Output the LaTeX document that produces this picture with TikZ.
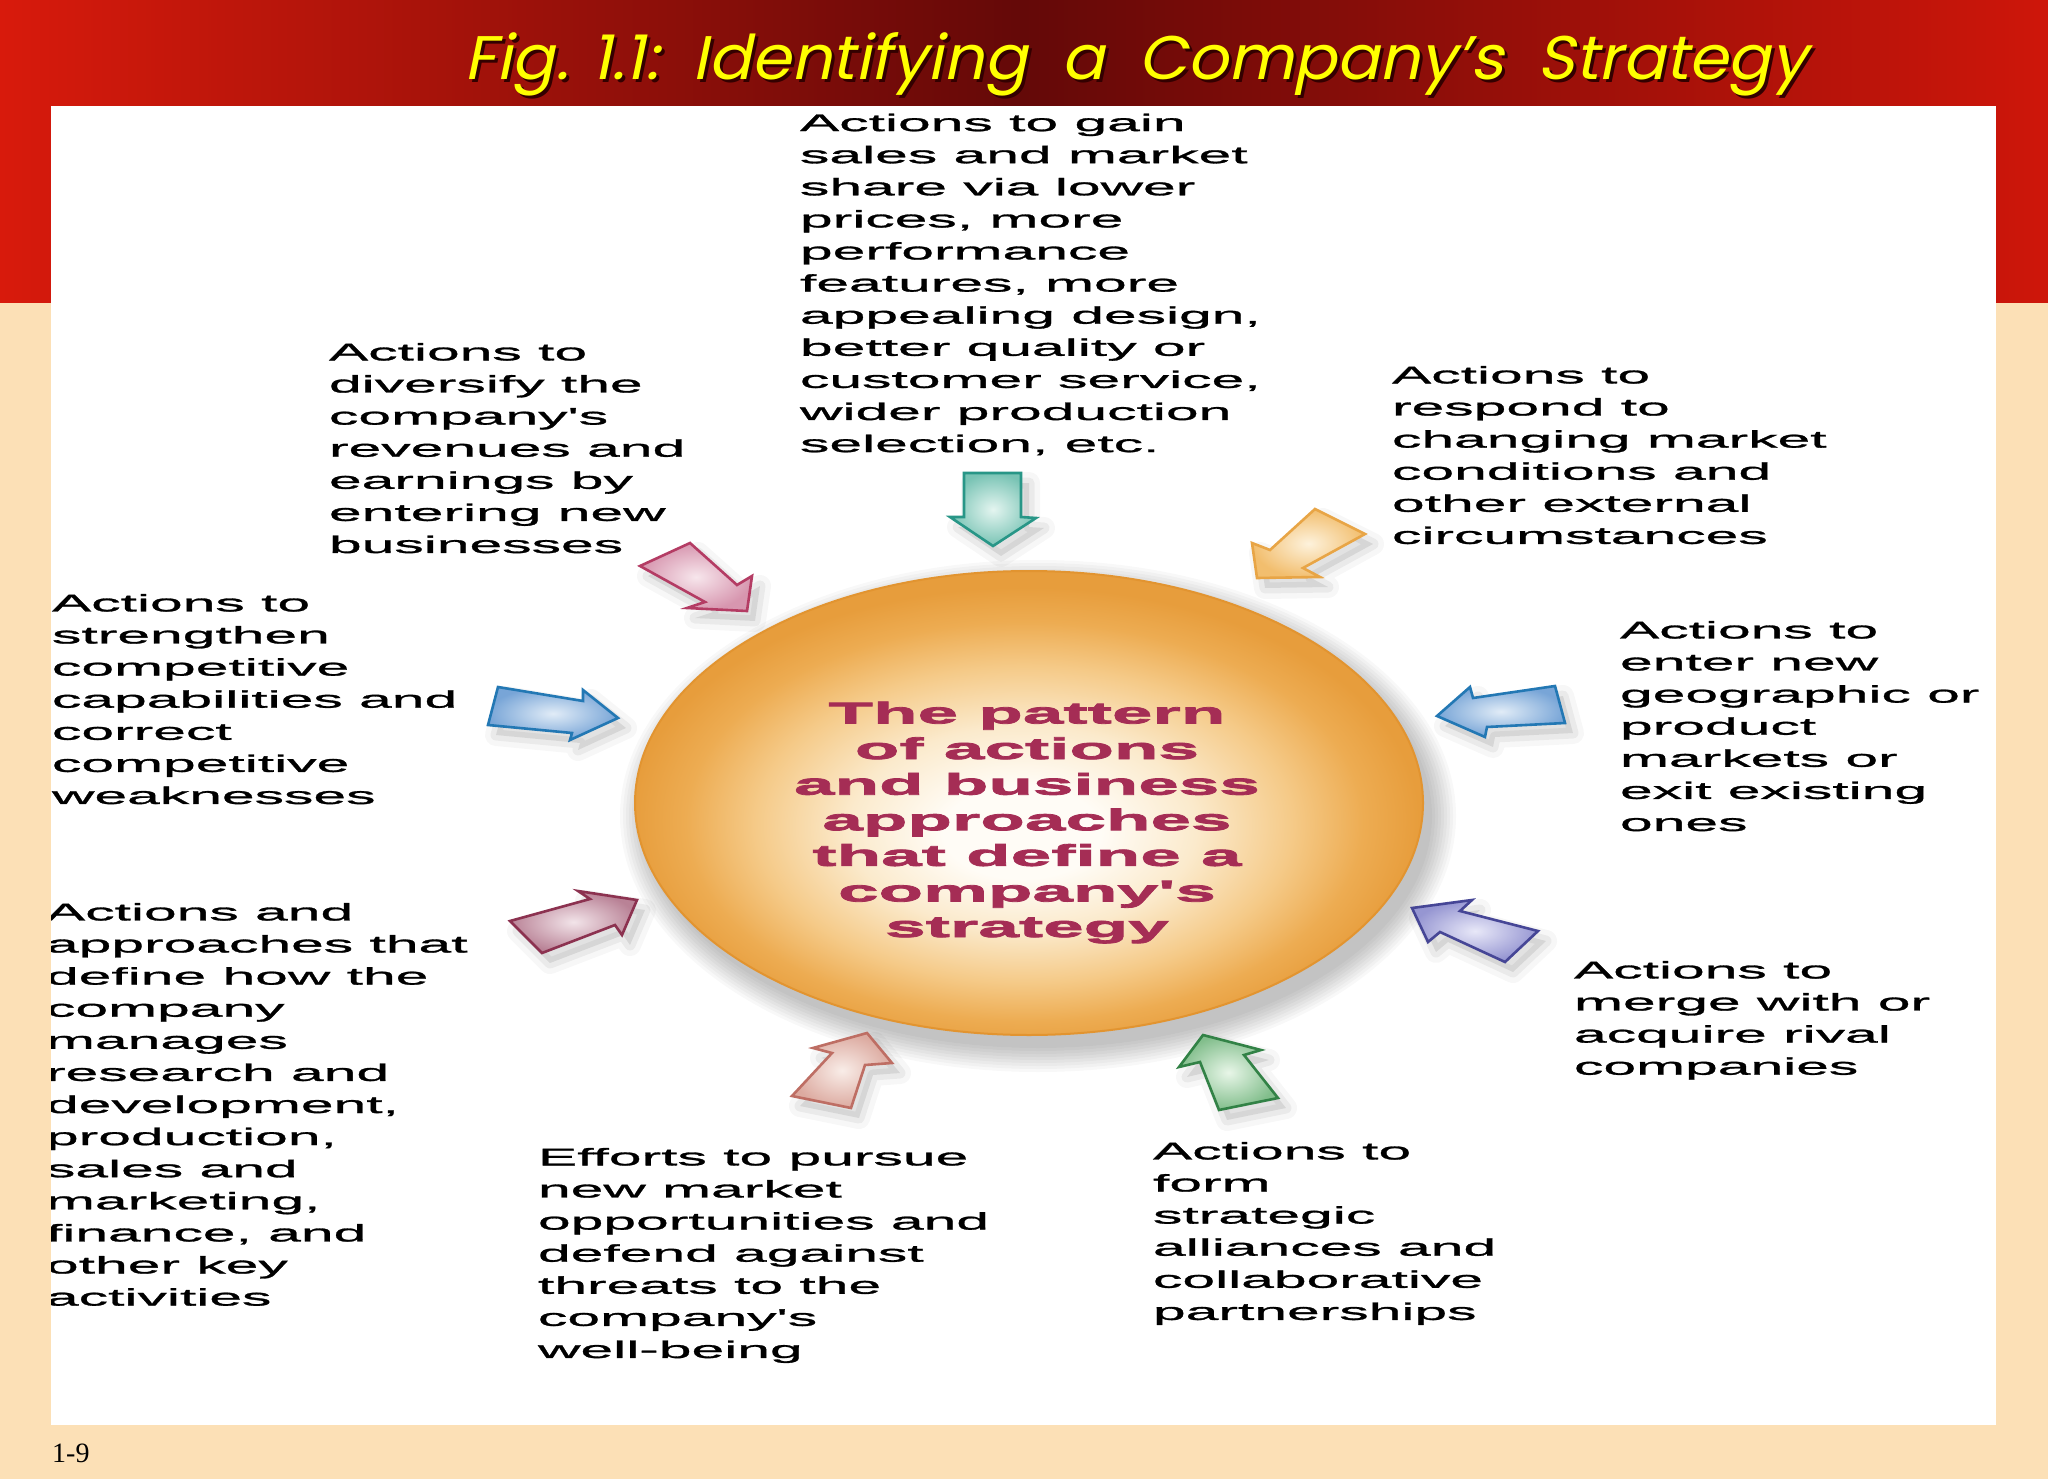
\documentclass[tikz,border=0pt]{standalone}
\usepackage{fontspec}
\usepackage{graphicx}
\usetikzlibrary{shapes.geometric}
\newfontfamily\bodyfont[FakeStretch=2.45,FakeBold=1.2]{Liberation Sans}
\newfontfamily\corefont[FakeStretch=2.43,FakeBold=2.6]{Liberation Sans}
\newfontfamily\titlefont[FakeSlant=0.2]{Poppins}
\newfontfamily\footfont{Liberation Serif}
\definecolor{peach}{RGB}{252,224,182}
\definecolor{bandL}{RGB}{216,26,12}
\definecolor{bandM}{RGB}{100,9,8}
\definecolor{bandR}{RGB}{206,22,10}
\definecolor{titleY}{RGB}{255,255,0}
\definecolor{coretxt}{RGB}{165,45,85}
\definecolor{rim}{RGB}{226,148,48}
\definecolor{ballA}{RGB}{255,252,246}
\definecolor{ballB}{RGB}{251,234,204}
\definecolor{ballC}{RGB}{245,202,136}
\definecolor{ballD}{RGB}{237,172,82}
\definecolor{ballE}{RGB}{231,157,60}
\definecolor{tealD}{RGB}{40,150,135}\definecolor{tealL}{RGB}{228,245,240}\definecolor{tealM}{RGB}{120,195,180}
\definecolor{pinkD}{RGB}{180,60,100}\definecolor{pinkL}{RGB}{247,230,236}\definecolor{pinkM}{RGB}{215,150,175}
\definecolor{blueD}{RGB}{35,120,180}\definecolor{blueL}{RGB}{225,236,247}\definecolor{blueM}{RGB}{120,165,215}
\definecolor{orgD}{RGB}{232,165,70}\definecolor{orgL}{RGB}{253,242,220}\definecolor{orgM}{RGB}{242,190,110}
\definecolor{marD}{RGB}{140,50,80}\definecolor{marL}{RGB}{242,228,233}\definecolor{marM}{RGB}{185,130,150}
\definecolor{salD}{RGB}{190,110,100}\definecolor{salL}{RGB}{249,237,232}\definecolor{salM}{RGB}{220,170,160}
\definecolor{grnD}{RGB}{50,130,70}\definecolor{grnL}{RGB}{232,246,232}\definecolor{grnM}{RGB}{130,190,140}
\definecolor{purD}{RGB}{70,70,150}\definecolor{purL}{RGB}{232,232,248}\definecolor{purM}{RGB}{150,150,210}
\pgfdeclareradialshading{ballshade}{\pgfpoint{-0.5bp}{-3.5bp}}{color(0bp)=(ballA); color(5bp)=(ballA); color(11bp)=(ballB); color(17bp)=(ballC); color(21.5bp)=(ballD); color(25bp)=(ballE); color(50bp)=(ballE)}
\newcommand\blockarr[4]{%
  \begin{scope}[shift={(8,10)}]
    \path[fill=black, fill opacity=0.03, draw=black, draw opacity=0.03, line width=22pt, line join=round] #1;
    \path[fill=black, fill opacity=0.05, draw=black, draw opacity=0.05, line width=11pt, line join=round] #1;
  \end{scope}
  \shadedraw[draw=#2, line width=2.6pt, line join=miter, inner color=#3, outer color=#4] #1;
}
\tikzset{
  body/.style={font={\bodyfont\fontsize{24pt}{32.1pt}\selectfont}, align=left, anchor=north west, inner sep=0pt, outer sep=0pt, text=black},
  coretext/.style={font={\corefont\bfseries\fontsize{30pt}{35.6pt}\selectfont}, align=center, anchor=north, inner sep=0pt, text=coretxt},
  titletext/.style={anchor=base west, inner sep=0pt},
}
\begin{document}
\begin{tikzpicture}[x=1pt,y=-1pt]
\useasboundingbox (0,0) rectangle (2048,1479);
\fill[peach] (0,0) rectangle (2048,1479);
\shade[left color=bandL, right color=bandR, middle color=bandM] (0,0) rectangle (2048,303);
\fill[white] (51,106) rectangle (1996,1425);

% title
\node[titletext, text=black!80!red] (titleshadow) at (467,83) {\resizebox{1342pt}{47pt}{\titlefont Fig. 1.1:\ \ Identifying\ \ a\ \ Company’s\ \ Strategy}};
\node[titletext, text=titleY] (title) at (464,80) {\resizebox{1342pt}{47pt}{\titlefont Fig. 1.1:\ \ Identifying\ \ a\ \ Company’s\ \ Strategy}};

% central ball
\foreach \k in {0,3,...,24}
  \fill[black, opacity=0.026] (1038,816) ellipse [x radius={394pt+\k pt}, y radius={232pt+\k pt}];
\node[ellipse, minimum width=788pt, minimum height=464pt, inner sep=0pt, outer sep=0pt, shading=ballshade, draw=rim, line width=2pt] (core) at (1029,803) {};
\node[coretext] (coretxt) at (1027,701.5) {The pattern\\of actions\\and business\\approaches\\that define a\\company's\\strategy};

% arrows
\blockarr{(964,473) -- (1021,473) -- (1021,517) -- (1036,518) -- (993,546) -- (950,517) -- (964,517) -- cycle}{tealD}{tealL}{tealM}
\blockarr{(1315,509) -- (1365,534) -- (1303,568) -- (1320,577) -- (1257,578) -- (1252,543) -- (1270,550) -- cycle}{orgD}{orgL}{orgM}
\blockarr{(640,566) -- (690,543) -- (737,585) -- (752,576) -- (747,611) -- (687,608) -- (705,602) -- cycle}{pinkD}{pinkL}{pinkM}
\blockarr{(498,687) -- (488,725) -- (572,733) -- (570,740) -- (618,718) -- (583,690) -- (583,701) -- cycle}{blueD}{blueL}{blueM}
\blockarr{(1555,686) -- (1565,723) -- (1487,727) -- (1485,737) -- (1437,716) -- (1470,687) -- (1473,698) -- cycle}{blueD}{blueL}{blueM}
\blockarr{(510,921) -- (590,899) -- (578,891) -- (637,900) -- (622,935) -- (615,925) -- (542,953) -- cycle}{marD}{marL}{marM}
\blockarr{(792,1096) -- (851,1108) -- (865,1065) -- (892,1063) -- (867,1033) -- (813,1048) -- (832,1053) -- cycle}{salD}{salL}{salM}
\blockarr{(1219,1110) -- (1278,1098) -- (1244,1055) -- (1261,1050) -- (1203,1035) -- (1179,1067) -- (1200,1062) -- cycle}{grnD}{grnL}{grnM}
\blockarr{(1412,908) -- (1472,900) -- (1460,911) -- (1538,931) -- (1505,962) -- (1440,932) -- (1428,942) -- cycle}{purD}{purL}{purM}

% texts
\node[body] (tA) at (800,113.7) {Actions to gain\\sales and market\\share via lower\\prices, more\\performance\\features, more\\appealing design,\\better quality or\\customer service,\\wider production\\selection, etc.};
\node[body] (tB) at (329,343) {Actions to\\diversify the\\company's\\revenues and\\earnings by\\entering new\\businesses};
\node[body] (tC) at (1392,366) {Actions to\\respond to\\changing market\\conditions and\\other external\\circumstances};
\node[body] (tD) at (52,594) {Actions to\\strengthen\\competitive\\capabilities and\\correct\\competitive\\weaknesses};
\node[body] (tE) at (1620,621) {Actions to\\enter new\\geographic or\\product\\markets or\\exit existing\\ones};
\begin{scope}
\clip (51,106) rectangle (1996,1425);
\node[body] (tF) at (46,903) {Actions and\\approaches that\\define how the\\company\\manages\\research and\\development,\\production,\\sales and\\marketing,\\finance, and\\other key\\activities};
\end{scope}
\node[body] (tG) at (538,1148) {Efforts to pursue\\new market\\opportunities and\\defend against\\threats to the\\company's\\well-being};
\node[body] (tH) at (1153,1142) {Actions to\\form\\strategic\\alliances and\\collaborative\\partnerships};
\node[body] (tI) at (1574,961) {Actions to\\merge with or\\acquire rival\\companies};

\node[anchor=base west, inner sep=0pt, font={\footfont\fontsize{28pt}{30pt}\selectfont}] (pageno) at (52,1462) {1-9};
\end{tikzpicture}
\end{document}
